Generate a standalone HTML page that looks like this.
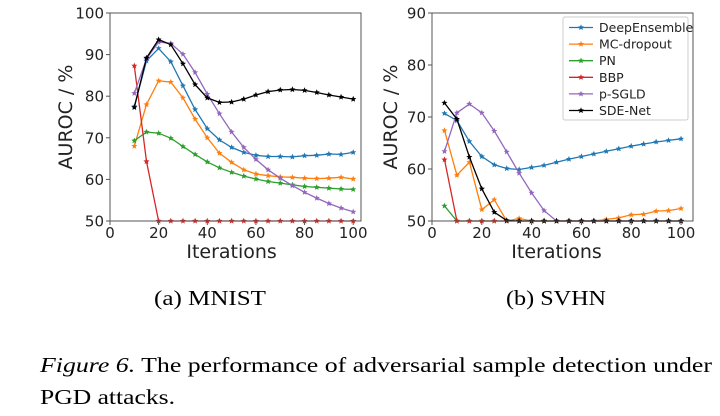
<!DOCTYPE html>
<html><head><meta charset="utf-8"><style>
html,body{margin:0;padding:0;background:#fff;width:720px;height:416px;overflow:hidden}
svg{display:block}
</style></head><body>
<svg id="fig" width="720" height="416" viewBox="0 0 720 416" xmlns="http://www.w3.org/2000/svg" font-family="'DejaVu Sans','Liberation Sans',sans-serif">
<text x="210" y="305" font-family="'Liberation Serif',serif" font-size="21" text-anchor="middle" textLength="112" lengthAdjust="spacingAndGlyphs">(a) MNIST</text>
<text x="556" y="305" font-family="'Liberation Serif',serif" font-size="21" text-anchor="middle" textLength="100" lengthAdjust="spacingAndGlyphs">(b) SVHN</text>
<text x="40" y="372" font-family="'Liberation Serif',serif" font-size="21" textLength="672" lengthAdjust="spacingAndGlyphs"><tspan font-style="italic">Figure 6.</tspan> The performance of adversarial sample detection under</text>
<text x="40" y="404" font-family="'Liberation Serif',serif" font-size="21" textLength="135" lengthAdjust="spacingAndGlyphs">PGD attacks.</text>
</svg>
<script>
const seriesNames=["DeepEnsemble","MC-dropout","PN","BBP","p-SGLD","SDE-Net"];
const colors=["#1f77b4","#ff7f0e","#2ca02c","#d62728","#9467bd","#000000"];
const xMnist=[10,15,20,25,30,35,40,45,50,55,60,65,70,75,80,85,90,95,100];
const mnistDeepEnsemble=[77.5,88.5,91.5,88.3,82.5,76.8,72.2,69.5,67.7,66.5,65.8,65.5,65.5,65.4,65.7,65.8,66.1,66,66.5];
const mnistMCdropout=[68,78,83.7,83.4,79.6,74.5,70,66.3,64.1,62.3,61.3,60.9,60.6,60.5,60.3,60.2,60.3,60.5,60.1];
const mnistPN=[69.3,71.4,71.1,69.9,67.9,66,64.2,62.8,61.7,60.8,60.1,59.5,59.1,58.7,58.3,58.1,57.9,57.7,57.6];
const mnistBBP=[87.3,64.3,50,50,50,50,50,50,50,50,50,50,50,50,50,50,50,50,50];
const mnistPSGLD=[80.7,89,93,92.7,90.1,85.7,80.5,75.8,71.4,67.7,64.8,62.3,60.3,58.5,56.9,55.5,54.2,53.1,52.2];
const mnistSDENet=[77.3,89.2,93.6,92.4,87.8,82.8,79.6,78.5,78.6,79.3,80.3,81.1,81.5,81.6,81.4,80.9,80.3,79.8,79.3];
const xSvhn=[5,10,15,20,25,30,35,40,45,50,55,60,65,70,75,80,85,90,95,100];
const svhnDeepEnsemble=[70.7,69.3,65.3,62.4,60.8,60.1,59.9,60.3,60.7,61.3,61.9,62.4,62.9,63.4,63.9,64.4,64.8,65.2,65.5,65.8];
const svhnMCdropout=[67.4,58.8,61.3,52.2,54.1,50,50.5,50,50,50,50,50,50,50.3,50.6,51.2,51.3,51.9,52,52.4];
const svhnPN=[52.9,50,50,50,50,50,50,50,50,50,50,50,50,50,50,50,50,50,50,50];
const svhnBBP=[61.8,50,50,50,50,50,50,50,50,50,50,50,50,50,50,50,50,50,50,50];
const svhnPSGLD=[63.4,70.8,72.5,70.8,67.3,63.3,59.2,55.4,52,50,50,50,50,50,50,50,50,50,50,50];
const svhnSDENet=[72.7,69.6,62.3,56.2,51.7,50.1,50,50,50,50,50,50,50,50,50,50,50,50,50,50];
const xTicks=[0,20,40,60,80,100];
const yTicksMnist=[50,60,70,80,90,100];
const yTicksSvhn=[50,60,70,80,90];

const NS="http://www.w3.org/2000/svg";
const svg=document.getElementById('fig');
function mk(tag,attrs,parent){const e=document.createElementNS(NS,tag);for(const k in attrs)e.setAttribute(k,attrs[k]);(parent||svg).appendChild(e);return e;}
function star(cx,cy,r){let p=[];for(let i=0;i<10;i++){const a=-Math.PI/2+i*Math.PI/5;const rr=i%2?r*0.45:r;p.push((cx+rr*Math.cos(a)).toFixed(1)+','+(cy+rr*Math.sin(a)).toFixed(1));}return p.join(' ');}

function panel(id,left,right,top,bottom,xmin,xmax,ymin,ymax,yTicks,xs,data,labelX,legend){
  const g=mk('g',{});
  
  
  const sx=v=>left+(v-xmin)/(xmax-xmin)*(right-left);
  const sy=v=>bottom-(v-ymin)/(ymax-ymin)*(bottom-top);
  const cp=mk('clipPath',{id:id+'-clip'},g);
  mk('rect',{x:left,y:top-4,width:right-left,height:bottom-top+8},cp);
  data.forEach((vals,si)=>{
    const sg=mk('g',{'clip-path':'url(#'+id+'-clip)'},g);
    
    
    const pts=xs.map((x,i)=>sx(x).toFixed(1)+','+sy(vals[i]).toFixed(1)).join(' ');
    const pl=mk('polyline',{points:pts,fill:'none',stroke:colors[si],'stroke-width':1.3},sg);
    
    
    xs.forEach((x,i)=>{
      const m=mk('polygon',{points:star(sx(x),sy(vals[i]),3.2),fill:colors[si]},sg);
      
      
    });
  });
  const fr=mk('rect',{x:left,y:top,width:right-left,height:bottom-top,fill:'none',stroke:'#555','stroke-width':1},g);
  
  
  xTicks.forEach(t=>{
    mk('line',{x1:sx(t),x2:sx(t),y1:bottom,y2:bottom+4,stroke:'#555'},g);
    const tx=mk('text',{x:sx(t),y:bottom+17,'font-size':15,'text-anchor':'middle',fill:'#222'},g);
    tx.textContent=t;
    
    
  });
  yTicks.forEach(t=>{
    mk('line',{x1:left-4,x2:left,y1:sy(t),y2:sy(t),stroke:'#555'},g);
    const ty=mk('text',{x:left-6,y:sy(t)+5.5,'font-size':15,'text-anchor':'end',fill:'#222'},g);
    ty.textContent=t;
    
    
  });
  const xt=mk('text',{x:(sx(0)+sx(100))/2,y:bottom+37,'font-size':19,'text-anchor':'middle',fill:'#222'},g);
  xt.textContent='Iterations';
  
  
  const yt=mk('text',{x:0,y:0,'font-size':19,'text-anchor':'middle',fill:'#222',transform:'translate('+labelX+','+((top+bottom)/2)+') rotate(-90)'},g);
  yt.textContent='AUROC / %';
  
  
  if(legend){
    const lg=mk('g',{},g);
    
    
    mk('rect',{x:563,y:17,width:125,height:103,rx:2,fill:'#fff',stroke:'#ccc'},lg);
    seriesNames.forEach((n,i)=>{
      const y=27.5+i*16.6;
      const e=mk('g',{},lg);
      
      
      mk('line',{x1:569,x2:593,y1:y,y2:y,stroke:colors[i],'stroke-width':1.3},e);
      mk('polygon',{points:star(581,y,3.2),fill:colors[i]},e);
      const t=mk('text',{x:599,y:y+4.5,'font-size':12.5,fill:'#222'},e);
      t.textContent=n;
    });
  }
}
panel('mnist-chart',110,361,13,221,0,103.2,50,100,yTicksMnist,xMnist,
  [mnistDeepEnsemble,mnistMCdropout,mnistPN,mnistBBP,mnistPSGLD,mnistSDENet],72,false);
panel('svhn-chart',432,693,13,221,0,104.8,50,90,yTicksSvhn,xSvhn,
  [svhnDeepEnsemble,svhnMCdropout,svhnPN,svhnBBP,svhnPSGLD,svhnSDENet],397,true);
</script>
</body></html>
